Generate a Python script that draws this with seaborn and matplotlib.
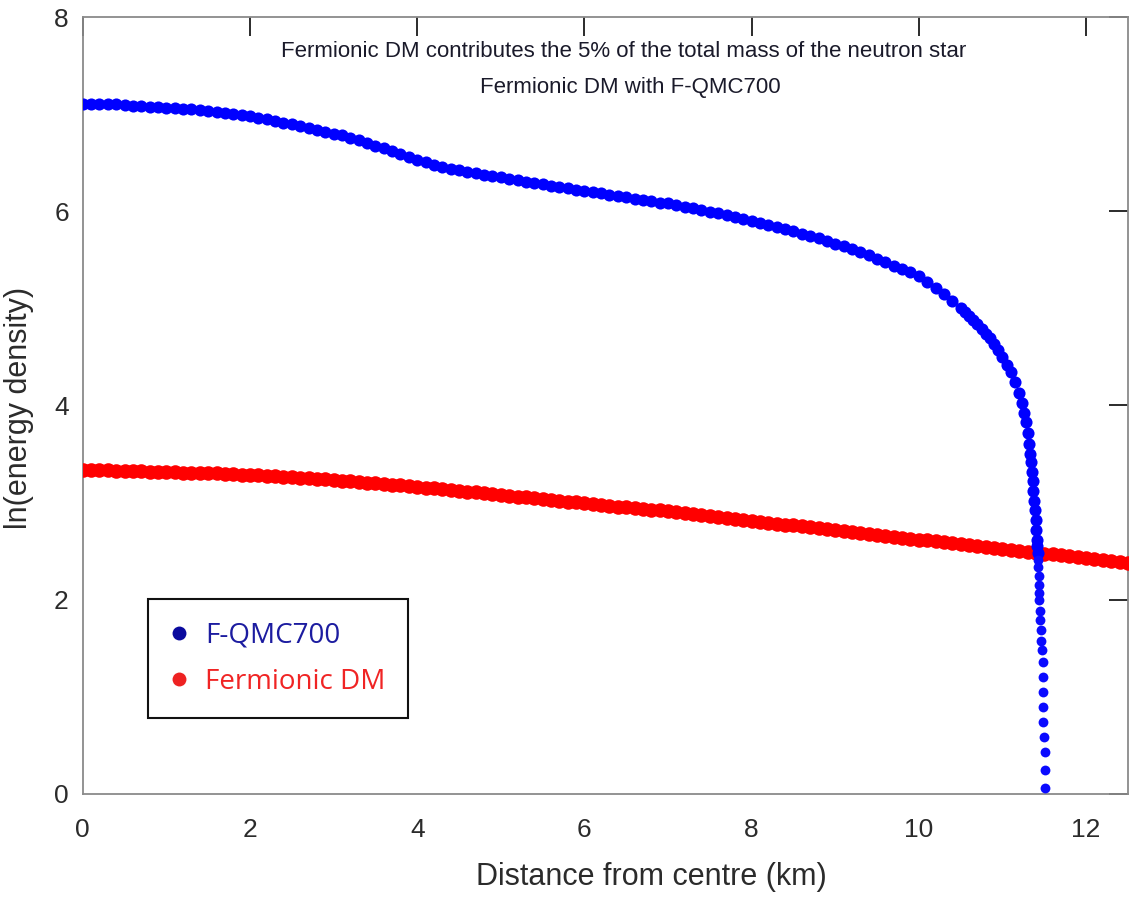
import matplotlib
matplotlib.use("Agg")
import matplotlib.pyplot as plt
from matplotlib.lines import Line2D
import seaborn as sns
import pandas as pd

# Radial profile of the neutron-star matter (F-QMC700 equation of state)
nm_radius = [
    0.0, 0.1, 0.2, 0.3, 0.4, 0.5, 0.6, 0.7, 0.8, 0.9,
    1.0, 1.1, 1.2, 1.3, 1.4, 1.5, 1.6, 1.7, 1.8, 1.9,
    2.0, 2.1, 2.2, 2.3, 2.4, 2.5, 2.6, 2.7, 2.8, 2.9,
    3.0, 3.1, 3.2, 3.3, 3.4, 3.5, 3.6, 3.7, 3.8, 3.9,
    4.0, 4.1, 4.2, 4.3, 4.4, 4.5, 4.6, 4.7, 4.8, 4.9,
    5.0, 5.1, 5.2, 5.3, 5.4, 5.5, 5.6, 5.7, 5.8, 5.9,
    6.0, 6.1, 6.2, 6.3, 6.4, 6.5, 6.6, 6.7, 6.8, 6.9,
    7.0, 7.1, 7.2, 7.3, 7.4, 7.5, 7.6, 7.7, 7.8, 7.9,
    8.0, 8.1, 8.2, 8.3, 8.4, 8.5, 8.6, 8.7, 8.8, 8.9,
    9.0, 9.1, 9.2, 9.3, 9.4, 9.5, 9.6, 9.7, 9.8, 9.9,
    10.0, 10.1, 10.2, 10.3, 10.4, 10.5,
    10.55, 10.6, 10.65, 10.7, 10.75, 10.8, 10.85, 10.9, 10.95, 11.0,
    11.05, 11.1, 11.15, 11.2, 11.23, 11.26, 11.28, 11.30, 11.32, 11.33,
    11.34, 11.35, 11.36, 11.37, 11.38, 11.39, 11.40, 11.40, 11.41, 11.41,
    11.42, 11.43, 11.43, 11.44, 11.44, 11.44, 11.44, 11.45, 11.45, 11.46,
    11.46, 11.47, 11.48, 11.48, 11.49, 11.49, 11.49, 11.50, 11.51, 11.51,
    11.51,
]
nm_ln_eps = [
    7.10, 7.10, 7.10, 7.10, 7.10, 7.09, 7.08, 7.08, 7.07, 7.07,
    7.06, 7.06, 7.05, 7.05, 7.04, 7.03, 7.02, 7.01, 7.00, 6.99,
    6.98, 6.96, 6.95, 6.93, 6.91, 6.90, 6.88, 6.86, 6.84, 6.82,
    6.80, 6.78, 6.75, 6.73, 6.70, 6.67, 6.65, 6.62, 6.59, 6.56,
    6.53, 6.51, 6.48, 6.46, 6.44, 6.42, 6.40, 6.39, 6.37, 6.36,
    6.35, 6.33, 6.32, 6.30, 6.29, 6.28, 6.26, 6.25, 6.24, 6.22,
    6.21, 6.20, 6.19, 6.17, 6.16, 6.15, 6.13, 6.12, 6.11, 6.09,
    6.08, 6.06, 6.04, 6.03, 6.01, 5.99, 5.98, 5.96, 5.94, 5.92,
    5.90, 5.88, 5.86, 5.84, 5.82, 5.80, 5.77, 5.75, 5.72, 5.69,
    5.66, 5.64, 5.61, 5.58, 5.55, 5.51, 5.48, 5.44, 5.41, 5.37,
    5.33, 5.27, 5.21, 5.15, 5.08, 5.00,
    4.96, 4.92, 4.88, 4.84, 4.79, 4.74, 4.69, 4.63, 4.57, 4.50,
    4.42, 4.34, 4.24, 4.13, 4.03, 3.92, 3.83, 3.72, 3.60, 3.50,
    3.42, 3.32, 3.22, 3.12, 3.02, 2.92, 2.82, 2.72, 2.62, 2.55,
    2.48, 2.41, 2.34, 2.24, 2.15, 2.07, 2.00, 1.88, 1.79, 1.69,
    1.58, 1.48, 1.36, 1.20, 1.05, 0.90, 0.745, 0.59, 0.43, 0.25,
    0.065,
]

# Radial profile of the fermionic dark-matter component
dm_radius = [
    0.0, 0.1, 0.2, 0.3, 0.4, 0.5, 0.6, 0.7, 0.8, 0.9,
    1.0, 1.1, 1.2, 1.3, 1.4, 1.5, 1.6, 1.7, 1.8, 1.9,
    2.0, 2.1, 2.2, 2.3, 2.4, 2.5, 2.6, 2.7, 2.8, 2.9,
    3.0, 3.1, 3.2, 3.3, 3.4, 3.5, 3.6, 3.7, 3.8, 3.9,
    4.0, 4.1, 4.2, 4.3, 4.4, 4.5, 4.6, 4.7, 4.8, 4.9,
    5.0, 5.1, 5.2, 5.3, 5.4, 5.5, 5.6, 5.7, 5.8, 5.9,
    6.0, 6.1, 6.2, 6.3, 6.4, 6.5, 6.6, 6.7, 6.8, 6.9,
    7.0, 7.1, 7.2, 7.3, 7.4, 7.5, 7.6, 7.7, 7.8, 7.9,
    8.0, 8.1, 8.2, 8.3, 8.4, 8.5, 8.6, 8.7, 8.8, 8.9,
    9.0, 9.1, 9.2, 9.3, 9.4, 9.5, 9.6, 9.7, 9.8, 9.9,
    10.0, 10.1, 10.2, 10.3, 10.4, 10.5, 10.6, 10.7, 10.8, 10.9,
    11.0, 11.1, 11.2, 11.3, 11.4, 11.5, 11.6, 11.7, 11.8, 11.9,
    12.0, 12.1, 12.2, 12.3, 12.4, 12.5,
]
dm_ln_eps = [
    3.34, 3.34, 3.34, 3.34, 3.33, 3.33, 3.33, 3.33, 3.32, 3.32,
    3.32, 3.32, 3.31, 3.31, 3.30, 3.30, 3.30, 3.29, 3.29, 3.28,
    3.28, 3.28, 3.27, 3.27, 3.26, 3.26, 3.25, 3.25, 3.24, 3.24,
    3.23, 3.22, 3.22, 3.21, 3.20, 3.20, 3.19, 3.18, 3.18, 3.17,
    3.16, 3.15, 3.15, 3.14, 3.13, 3.12, 3.11, 3.11, 3.10, 3.09,
    3.08, 3.07, 3.06, 3.06, 3.05, 3.04, 3.03, 3.02, 3.01, 3.01,
    3.00, 2.99, 2.98, 2.97, 2.96, 2.95, 2.94, 2.93, 2.92, 2.92,
    2.91, 2.90, 2.89, 2.88, 2.87, 2.86, 2.85, 2.84, 2.83, 2.82,
    2.81, 2.80, 2.79, 2.78, 2.77, 2.77, 2.76, 2.75, 2.74, 2.73,
    2.72, 2.71, 2.70, 2.69, 2.68, 2.67, 2.66, 2.65, 2.64, 2.63,
    2.62, 2.61, 2.60, 2.59, 2.58, 2.57, 2.56, 2.55, 2.54, 2.53,
    2.52, 2.51, 2.50, 2.49, 2.48, 2.47, 2.47, 2.46, 2.45, 2.44,
    2.43, 2.42, 2.41, 2.40, 2.39, 2.38,
]

series_names = ["F-QMC700", "Fermionic DM"]
x_ticks = [0, 2, 4, 6, 8, 10, 12]
y_ticks = [0, 2, 4, 6, 8]
title_lines = [
    "Fermionic DM contributes the 5% of the total mass of the neutron star",
    "Fermionic DM with F-QMC700",
]

sns.set_theme(style="white")
plt.rcParams["font.family"] = ["Liberation Sans", "DejaVu Sans"]

fig = plt.figure(figsize=(11.29, 9.0), dpi=100)
ax = fig.add_axes([0.0733, 0.1178, 0.9257, 0.8633])

nm_df = pd.DataFrame({"r": nm_radius, "ln_eps": nm_ln_eps})
dm_df = pd.DataFrame({"r": dm_radius, "ln_eps": dm_ln_eps})
# dense core/envelope part forms a thick band; the sparse surface tail
# is drawn with slightly smaller dots
nm_core = nm_df[nm_df["ln_eps"] >= 2.45]
nm_tail = nm_df[nm_df["ln_eps"] < 2.45]

sns.scatterplot(data=dm_df, x="r", y="ln_eps", ax=ax, color="#ff0000",
                s=110, linewidth=0, legend=False, zorder=3)
sns.scatterplot(data=nm_core, x="r", y="ln_eps", ax=ax, color="#0000ff",
                s=76, linewidth=0, legend=False, zorder=4)
sns.scatterplot(data=nm_tail, x="r", y="ln_eps", ax=ax, color="#0a0aff",
                s=50, linewidth=0, legend=False, zorder=4)

ax.set_xlim(0, 12.5)
ax.set_ylim(0, 8)
ax.set_xticks(x_ticks)
ax.set_yticks(y_ticks)
ax.set_xticklabels([str(t) for t in x_ticks])
ax.set_yticklabels([str(t) for t in y_ticks])

for side in ["left", "right", "top", "bottom"]:
    ax.spines[side].set_visible(True)
    ax.spines[side].set_color("#8a8a8a")
    ax.spines[side].set_linewidth(1.3)

ax.tick_params(axis="both", which="major", direction="in", length=14,
               width=1.3, color="#1a1a1a", labelsize=19,
               labelcolor="#2b2b2b", top=True, right=True,
               labeltop=False, labelright=False)
ax.tick_params(axis="x", pad=17)
ax.tick_params(axis="y", pad=10)

ax.set_xlabel("Distance from centre (km)", fontsize=22, color="#2b2b2b")
ax.set_ylabel("ln(energy density)", fontsize=22, color="#2b2b2b")
ax.xaxis.set_label_coords(0.5436, -0.088)
ax.yaxis.set_label_coords(-0.047, 0.497)

ax.text(6.47, 7.65, title_lines[0], ha="center", va="center",
        fontsize=16, color="#1a1a2a")
ax.text(6.55, 7.27, title_lines[1], ha="center", va="center",
        fontsize=16, color="#1a1a2a")

handles = [
    Line2D([], [], linestyle="", marker="o", markersize=10,
           markerfacecolor="#0a0a9e", markeredgewidth=0),
    Line2D([], [], linestyle="", marker="o", markersize=10,
           markerfacecolor="#ee2222", markeredgewidth=0),
]
leg = ax.legend(handles, series_names, loc="lower left",
                bbox_to_anchor=(0.0624, 0.0978), frameon=True,
                fancybox=False, framealpha=1, edgecolor="#111111",
                borderpad=0.8, labelspacing=0.65, handlelength=0.6,
                handletextpad=0.65, borderaxespad=0,
                prop={"family": "Open Sans", "size": 20},
                labelcolor=["#1c1ca0", "#f02424"])
leg.get_frame().set_linewidth(1.5)

fig.savefig("out.png", dpi=100)
